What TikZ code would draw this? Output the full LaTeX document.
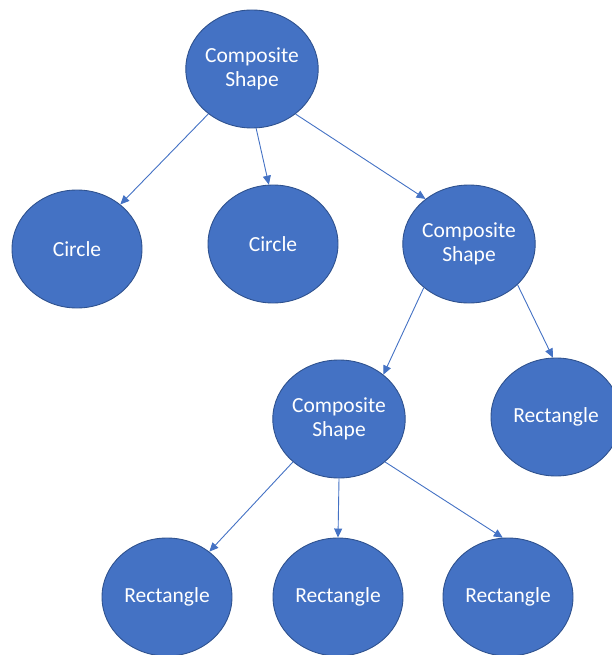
\documentclass[tikz,border=0pt]{standalone}
\usepackage{fontspec}
\setsansfont{Carlito}
\usepackage{xcolor}
\usetikzlibrary{arrows.meta,shapes.geometric}
\definecolor{officeblue}{HTML}{4472C4}
\definecolor{officeedge}{HTML}{2F528F}

\begin{document}
\begin{tikzpicture}[
    x=1pt,y=-1pt,
    font=\sffamily\fontsize{21.5}{24.5}\selectfont,
    >={Triangle[length=9pt,width=8pt]},
    link/.style={->,draw=officeblue,line width=0.9pt},
    part/.style={ellipse,draw=officeedge,fill=officeblue,line width=0.9pt,
      minimum width=130pt,minimum height=118pt,inner sep=0pt,
      text=white,align=center}
  ]
    \useasboundingbox (0,0) rectangle (611,655);

    % top level
    \node[part] (root) at (252,69) {Composite\\Shape};
    \node[part] (circA) at (77,249) {Circle};
    \node[part] (circB) at (273,244) {Circle};
    \node[part] (compA) at (469,244) {Composite\\Shape};

    % second level
    \node[part] (compB) at (339,419) {Composite\\Shape};
    \node[part] (rectA) at (556,417) {Rectangle};

    % leaves
    \node[part] (rectB) at (167,597) {Rectangle};
    \node[part] (rectC) at (338,597) {Rectangle};
    \node[part] (rectD) at (508,597) {Rectangle};

    \draw[link] (root) -- (circA);
    \draw[link] (root.-86) -- (circB.94);
    \draw[link] (root.-46) -- (compA.134);
    \draw[link] (compA.-136) -- (compB.45);
    \draw[link] (compA.-40) -- (rectA.93);
    \draw[link] (compB.-137) -- (rectB.47);
    \draw[link] (compB.-90) -- (rectC.90);
    \draw[link] (compB.-43) -- (rectD.95);
  \end{tikzpicture}
\end{document}
